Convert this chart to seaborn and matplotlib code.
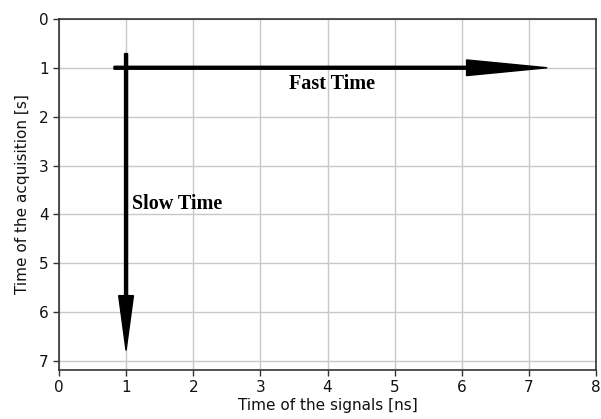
import matplotlib
matplotlib.use("Agg")
import matplotlib.pyplot as plt
import seaborn as sns

# arrow data: (x start, y start, x end, y end) in data units
fast_start = [0.82, 1.0]
fast_end = [7.27, 1.0]
slow_start = [1.0, 0.71]
slow_end = [1.0, 6.78]
labels = ["Fast Time", "Slow Time"]
label_pos = [[4.07, 1.33], [1.09, 3.78]]

sns.set_theme(style="whitegrid")
plt.rcParams["font.family"] = ["DejaVu Sans"]

fig, ax = plt.subplots(figsize=(6.01, 4.19), dpi=100)

ax.set_xlim(0, 8)
ax.set_ylim(7.18, 0)
ax.set_xticks(range(0, 9))
ax.set_yticks(range(0, 8))

ax.grid(True, color="#c8c8c8", linewidth=1)
for s in ax.spines.values():
    s.set_color("#333333")
    s.set_linewidth(1.2)
ax.tick_params(axis="both", which="both", direction="out", length=4, width=1,
               color="#333333", labelsize=11, labelcolor="#111111",
               bottom=True, left=True)

# fast time arrow
ax.arrow(fast_start[0], fast_start[1], fast_end[0] - fast_start[0], 0,
         width=0.06, head_width=0.32, head_length=1.2,
         length_includes_head=True, color="black", zorder=5)
# slow time arrow
ax.arrow(slow_start[0], slow_start[1], 0, slow_end[1] - slow_start[1],
         width=0.045, head_width=0.22, head_length=1.12,
         length_includes_head=True, color="black", zorder=5)

ax.text(label_pos[0][0], label_pos[0][1], labels[0], ha="center", va="center",
        fontsize=14.5, fontweight="bold", family="Liberation Serif", color="black")
ax.text(label_pos[1][0], label_pos[1][1], labels[1], ha="left", va="center",
        fontsize=14.5, fontweight="bold", family="Liberation Serif", color="black")

ax.set_xlabel("Time of the signals [ns]", fontsize=11, color="#111111", labelpad=2)
ax.set_ylabel("Time of the acquisition [s]", fontsize=11, color="#111111", labelpad=6)

fig.subplots_adjust(left=0.098, right=0.992, top=0.955, bottom=0.117)
fig.savefig("out.png", dpi=100)
